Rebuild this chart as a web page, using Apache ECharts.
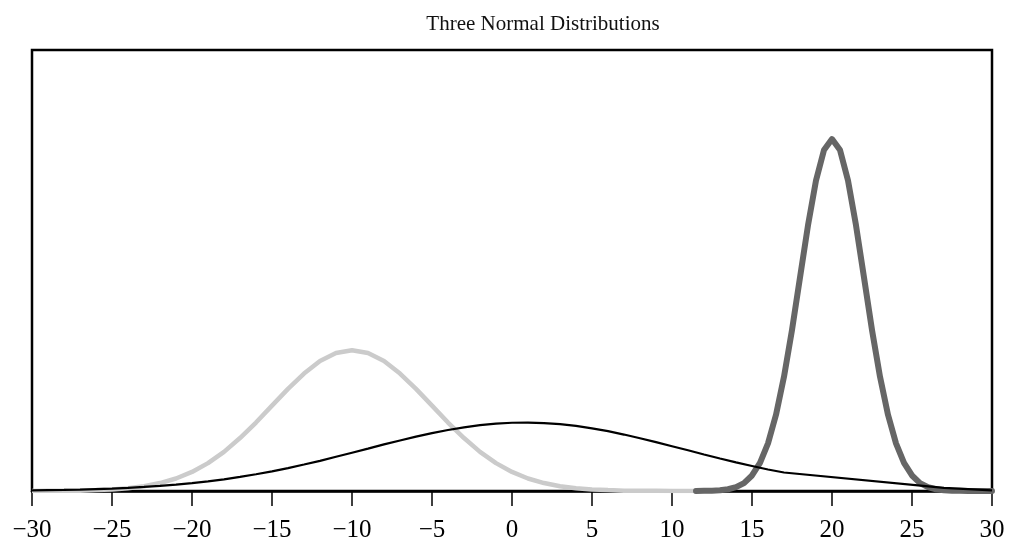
<!DOCTYPE html>
<html>
<head>
<meta charset="utf-8">
<script src="https://cdn.jsdelivr.net/npm/echarts@6/dist/echarts.min.js"></script>
<style>html,body{margin:0;padding:0;background:#fff}#c{width:1017px;height:544px}</style>
</head>
<body>
<div id="c"></div>
<script>
// x positions and densities
const lightX = [-30,-29,-28,-27,-26,-25,-24,-23,-22,-21,-20,-19,-18,-17,-16,-15,-14,-13,-12,-11,-10,-9,-8,-7,-6,-5,-4,-3,-2,-1,0,1,2,3,4,5,6,7,8,9,10,11,12];
const lightY = [0.0000,0.0001,0.0001,0.0002,0.0005,0.0009,0.0016,0.0027,0.0045,0.0071,0.0108,0.0158,0.0222,0.0300,0.0388,0.0484,0.0579,0.0666,0.0737,0.0782,0.0798,0.0782,0.0737,0.0666,0.0579,0.0484,0.0388,0.0300,0.0222,0.0158,0.0108,0.0071,0.0045,0.0027,0.0016,0.0009,0.0005,0.0002,0.0001,0.0001,0.0000,0.0000,0.0000];

const blackX = [-30,-29,-28,-27,-26,-25,-24,-23,-22,-21,-20,-19,-18,-17,-16,-15,-14,-13,-12,-11,-10,-9,-8,-7,-6,-5,-4,-3,-2,-1,0,1,2,3,4,5,6,7,8,9,10,11,12,13,14,15,16,17,27,30];
const blackY = [0.0003,0.0005,0.0006,0.0008,0.0011,0.0014,0.0018,0.0023,0.0029,0.0036,0.0045,0.0055,0.0066,0.0080,0.0095,0.0111,0.0130,0.0150,0.0171,0.0194,0.0217,0.0240,0.0264,0.0286,0.0308,0.0328,0.0346,0.0361,0.0373,0.0382,0.0387,0.0388,0.0385,0.0379,0.0369,0.0355,0.0339,0.0320,0.0299,0.0277,0.0254,0.0231,0.0207,0.0184,0.0162,0.0142,0.0122,0.0105,0.0018,0.0004];

const darkX = [11.5,12,12.5,13,13.5,14,14.5,15,15.5,16,16.5,17,17.5,18,18.5,19,19.5,20,20.5,21,21.5,22,22.5,23,23.5,24,24.5,25,25.5,26,26.5,27,27.5,28,28.5,30];
const darkY = [0.0000,0.0001,0.0002,0.0004,0.0010,0.0022,0.0045,0.0088,0.0159,0.0270,0.0432,0.0648,0.0913,0.1210,0.1506,0.1760,0.1933,0.1995,0.1933,0.1760,0.1506,0.1210,0.0913,0.0648,0.0432,0.0270,0.0159,0.0088,0.0045,0.0022,0.0010,0.0004,0.0002,0.0001,0.0000,0.0000];

const title = 'Three Normal Distributions';
const xTicks = [-30,-25,-20,-15,-10,-5,0,5,10,15,20,25,30];

const zip = (xs, ys) => xs.map((x, i) => [x, ys[i]]);
const serif = '"Liberation Serif","DejaVu Serif",serif';

const chart = echarts.init(document.getElementById('c'), null, {renderer: 'canvas'});
chart.setOption({
  animation: false,
  backgroundColor: '#fff',
  title: {
    text: title, left: 538, top: 9, textAlign: 'center',
    textStyle: {fontFamily: serif, fontSize: 21, fontWeight: 'normal', color: '#111'}
  },
  grid: {left: 32, right: 25, top: 50, bottom: 53, show: true, borderColor: '#000', borderWidth: 2.5, backgroundColor: 'transparent'},
  xAxis: {
    type: 'value', min: xTicks[0], max: xTicks[xTicks.length - 1], interval: 5,
    splitLine: {show: false},
    axisLine: {show: true, onZero: false, lineStyle: {color: '#000', width: 2.5}},
    axisTick: {show: true, inside: false, length: 15, lineStyle: {color: '#000', width: 1.5}},
    axisLabel: {margin: 27, fontFamily: serif, fontSize: 25, color: '#000',
      formatter: v => String(v).replace('-', '\u2212')}
  },
  yAxis: {type: 'value', min: 0, max: 0.25, show: false, splitLine: {show: false}},
  series: [
    {type: 'line', data: zip(lightX, lightY), showSymbol: false, lineStyle: {color: '#cbcbcb', width: 4.5}, z: 1},
    {type: 'line', data: zip(darkX, darkY), showSymbol: false, lineStyle: {color: '#666666', width: 6, join: 'round', cap: 'round'}, z: 2},
    {type: 'line', data: zip(blackX, blackY), showSymbol: false, lineStyle: {color: '#000', width: 2.2}, z: 3}
  ]
});
</script>
</body>
</html>
